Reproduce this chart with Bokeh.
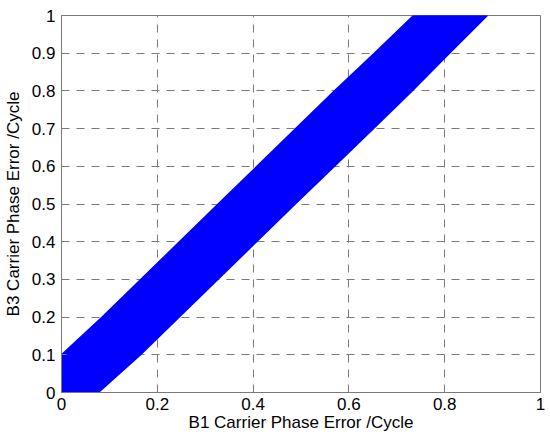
from bokeh.plotting import figure
from bokeh.models import FixedTicker, Range1d
from bokeh.embed import file_html
from bokeh.resources import INLINE

# Edges of the filled region (B1 error -> B3 error)
lower_x = [0.0, 0.077, 0.165, 0.488, 0.570, 0.651, 0.732, 0.810, 0.889]
lower_y = [0.0, 0.0,   0.1,   0.5,   0.6,   0.7,   0.8,   0.9,   1.0]
upper_x = [0.735, 0.653, 0.570, 0.408, 0.327, 0.085, 0.0]
upper_y = [1.0,   0.9,   0.8,   0.6,   0.5,   0.2,   0.1]

x_ticks = [0, 0.2, 0.4, 0.6, 0.8, 1]
x_labels = {0: "0", 0.2: "0.2", 0.4: "0.4", 0.6: "0.6", 0.8: "0.8", 1: "1"}
y_ticks = [0, 0.1, 0.2, 0.3, 0.4, 0.5, 0.6, 0.7, 0.8, 0.9, 1]
y_labels = {0: "0", 0.1: "0.1", 0.2: "0.2", 0.3: "0.3", 0.4: "0.4", 0.5: "0.5",
            0.6: "0.6", 0.7: "0.7", 0.8: "0.8", 0.9: "0.9", 1: "1"}

FONT = "Liberation Sans"
GRAY = "#7a7a7a"

p = figure(width=550, height=444, output_backend="svg", toolbar_location=None,
           x_range=Range1d(0, 1), y_range=Range1d(0, 1),
           min_border_left=61, min_border_right=10, min_border_top=15,
           min_border_bottom=52, background_fill_color="white",
           border_fill_color="white")

p.patch(lower_x + upper_x, lower_y + upper_y, fill_color="#0000FF",
        line_color="#0000FF", line_width=1.5)

p.outline_line_color = GRAY
p.outline_line_width = 1

for ax in (p.xaxis[0], p.yaxis[0]):
    ax.axis_line_color = GRAY
    ax.major_tick_line_color = GRAY
    ax.major_tick_in = 5
    ax.major_tick_out = 0
    ax.minor_tick_line_color = None
    ax.major_label_text_font = FONT
    ax.major_label_text_font_size = "17px"
    ax.major_label_text_color = "black"
    ax.axis_label_text_font = FONT
    ax.axis_label_text_font_size = "17px"
    ax.axis_label_text_font_style = "normal"
    ax.axis_label_text_color = "black"

p.xaxis[0].ticker = FixedTicker(ticks=x_ticks)
p.xaxis[0].major_label_overrides = x_labels
p.xaxis[0].axis_label = "B1 Carrier Phase Error /Cycle"
p.xaxis[0].major_label_standoff = 5
p.xaxis[0].axis_label_standoff = 0

p.yaxis[0].ticker = FixedTicker(ticks=y_ticks)
p.yaxis[0].major_label_overrides = y_labels
p.yaxis[0].axis_label = "B3 Carrier Phase Error /Cycle"
p.yaxis[0].major_label_standoff = 6
p.yaxis[0].axis_label_standoff = 6

for g in (p.xgrid[0], p.ygrid[0]):
    g.grid_line_color = GRAY
    g.grid_line_dash = "8 7"
    g.grid_line_width = 1
p.xgrid[0].ticker = FixedTicker(ticks=x_ticks)
p.ygrid[0].ticker = FixedTicker(ticks=y_ticks)

open("out.html", "w").write(file_html(p, INLINE))
